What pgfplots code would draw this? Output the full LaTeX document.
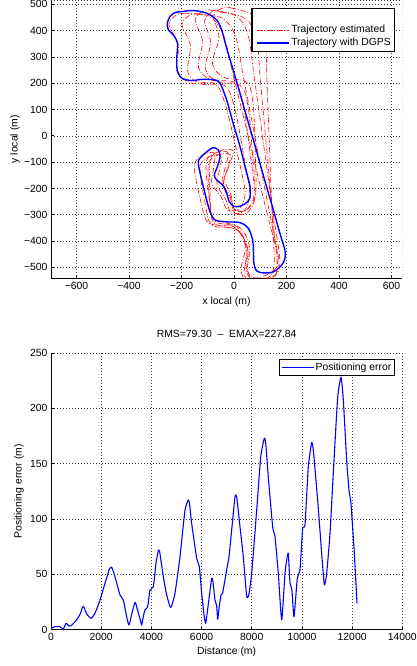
\documentclass[border=0pt]{standalone}
\usepackage{fontspec}
\setmainfont{Liberation Sans}
\usepackage{pgfplots}
\pgfplotsset{compat=1.18}

\pgfplotsset{
  mstyle/.style={
    scale only axis,
    axis lines*=left,
    axis line style={line width=0.8pt, -},
    tick align=inside,
    major tick length=3pt,
    tick style={black, line width=0.6pt},
    grid=major,
    major grid style={black!75, line width=0.5pt, dash pattern=on 0.6pt off 2.4pt},
    scaled ticks=false,
    /pgf/number format/assume math mode=true,
    /pgf/number format/1000 sep={},
    font=\fontsize{10.4}{12}\selectfont,
    legend cell align=left,
    legend style={at={(1,1)}, anchor=north east, draw=black, line width=1.3pt,
      fill=white, row sep=0pt,
      nodes={inner sep=1.5pt, text height=7.5pt, text depth=2.5pt}},
    legend image code/.code={\draw[##1] (0pt,0pt) -- (32pt,0pt);},
  },
  est/.style={draw=red, red, line width=0.6pt, dash pattern=on 5.5pt off 1.8pt on 0.9pt off 1.8pt, smooth, tension=0.55},
}

\begin{document}
\begin{tikzpicture}
\path[use as bounding box] (0pt,0pt) rectangle (417pt,-666pt);

% trajectories
\begin{axis}[mstyle,
  at={(51pt,0pt)}, anchor=north west,
  width=351pt, height=278.7pt,
  xmin=-697, xmax=640, ymin=-543, ymax=516,
  xtick={-600,-400,-200,0,200,400,600},
  xticklabels={−600,−400,−200,0,200,400,600},
  ytick={-500,-400,-300,-200,-100,0,100,200,300,400,500},
  yticklabels={−500,−400,−300,−200,−100,0,100,200,300,400,500},
  xlabel={x local (m)}, ylabel={y local (m)},
  xlabel style={at={(axis description cs:0.5,-0.0836)}, anchor=center},
  ylabel style={at={(axis description cs:-0.1026,0.5)}, anchor=center},
  legend style={xshift=-7pt, yshift=-7.7pt, inner sep=2pt},
  legend image code/.code={\draw[#1] (3pt,0pt) -- (35pt,0pt);},
]
\addlegendimage{empty legend}
\addlegendentry{}

\addplot[est] coordinates {
(-191,464) (-96,455) (-42,388) (-4,235) (40,56) (84,-124) (128,-303) (166,-457)
(151,-513) (80,-540) (46,-503) (44,-414) (-1,-346) (-96,-332) (-125,-255) (-151,-115)
(-117,-72) (-73,-67) (-79,-130) (-84,-181) (-48,-233) (-25,-282) (21,-276) (42,-211)
(10,-57) (-34,122) (-75,199) (-164,201) (-217,243) (-212,345) (-248,423) (-217,461) (-191,464)
};
\addlegendentry{Trajectory estimated}

\addplot[est, forget plot] coordinates {
(-139,462) (-45,447) (6,378) (36,223) (71,42) (106,-140) (141,-321) (171,-476)
(154,-532) (81,-555) (49,-516) (52,-427) (10,-357) (-84,-339) (-109,-260) (-129,-119)
(-93,-78) (-48,-75) (-57,-137) (-64,-188) (-31,-242) (-11,-292) (35,-288) (60,-224)
(36,-69) (1,112) (-36,191) (-125,197) (-176,242) (-166,344) (-198,423) (-166,460) (-139,462)
};
\addplot[est, forget plot] coordinates {
(-87,477) (6,457) (53,386) (76,230) (102,47) (127,-136) (153,-319) (175,-475)
(156,-530) (82,-550) (52,-509) (59,-420) (21,-348) (-72,-325) (-93,-246) (-106,-103)
(-68,-64) (-23,-64) (-35,-126) (-45,-176) (-14,-231) (4,-282) (49,-281) (77,-218)
(61,-62) (35,120) (2,202) (-86,212) (-135,259) (-120,360) (-148,441) (-114,476) (-87,477)
};
\addplot[est, forget plot] coordinates {
(-50,470) (42,446) (86,372) (100,215) (117,31) (134,-153) (150,-337) (165,-494)
(142,-548) (68,-564) (39,-522) (51,-434) (16,-360) (-75,-332) (-92,-251) (-97,-109)
(-58,-72) (-13,-73) (-28,-134) (-40,-184) (-13,-241) (3,-293) (48,-294) (80,-232)
(71,-76) (54,108) (25,191) (-62,205) (-109,255) (-89,355) (-112,437) (-77,475) (-50,470)
};
\addplot[est, forget plot] coordinates {
(-13,486) (78,457) (118,382) (125,224) (132,40) (139,-146) (147,-330) (153,-488)
(128,-540) (53,-553) (27,-509) (43,-422) (12,-346) (-78,-314) (-91,-232) (-89,-90)
(-47,-55) (-3,-58) (-21,-119) (-36,-168) (-11,-226) (2,-279) (47,-282) (82,-222)
(81,-65) (73,119) (49,203) (-38,222) (-82,274) (-57,373) (-77,456) (-39,488) (-13,486)
};

\addplot[draw=blue, blue, line width=1.4pt, smooth, tension=0.5] coordinates {
(-199,472) (-155,476) (-104,466) (-66,440) (-47,402) (-28,333) (-3,250) (23,161)
(48,73) (74,-16) (99,-105) (124,-193) (150,-282) (175,-371) (194,-434) (194,-466)
(182,-491) (150,-517) (112,-521) (86,-513) (76,-485) (74,-434) (71,-396) (55,-352)
(23,-330) (-28,-327) (-72,-320) (-91,-289) (-104,-244) (-123,-168) (-136,-105) (-130,-86)
(-104,-61) (-79,-45) (-60,-54) (-53,-79) (-63,-117) (-75,-149) (-66,-168) (-43,-187)
(-28,-219) (-18,-250) (-3,-267) (17,-269) (42,-259) (60,-238) (61,-193) (42,-117)
(23,-41) (-3,47) (-28,136) (-53,200) (-72,212) (-117,215) (-161,210) (-199,219)
(-216,250) (-218,294) (-215,352) (-231,383) (-250,402) (-254,428) (-244,453) (-225,468)
(-199,472)
};
\addlegendentry{Trajectory with DGPS}

\draw[black!75, line width=0.5pt, dash pattern=on 0.6pt off 2.4pt]
  (rel axis cs:0,1) -- (rel axis cs:1,1) -- (rel axis cs:1,0);
\end{axis}

% positioning error
\begin{axis}[mstyle,
  at={(51pt,-353pt)}, anchor=north west,
  width=351.3pt, height=276.7pt,
  xmin=0, xmax=14000, ymin=0, ymax=250,
  xtick={0,2000,...,14000},
  ytick={0,50,...,250},
  title={RMS=79.30\hspace{0.55em}–\hspace{0.55em}EMAX=227.84},
  title style={at={(axis description cs:0.5,1.047)}, anchor=center},
  xlabel={Distance (m)}, ylabel={Positioning error (m)},
  xlabel style={at={(axis description cs:0.5,-0.0806)}, anchor=center},
  ylabel style={at={(axis description cs:-0.091,0.5)}, anchor=center},
  legend style={xshift=-7.3pt, yshift=-6pt, inner sep=1.5pt},
  legend image code/.code={\draw[draw=blue, line width=1.1pt] (3pt,0pt) -- (35pt,0pt);},
]
\addplot[draw=blue, blue, line width=1.1pt, line join=round, smooth, tension=0.3] coordinates {
(0,1.3) (159,2.7) (359,2.7) (490,0.6) (598,5.8) (717,3.3) (797,3.5) (956,7.2)
(1088,11.2) (1180,15) (1262,20.8) (1320,20) (1422,14.2) (1594,10.3) (1753,14.8) (1953,26.8)
(2152,41.9) (2324,54.6) (2418,56.4) (2550,47.9) (2750,31.4) (2883,26.8) (3016,11.7) (3108,4.2)
(3241,16.3) (3348,24.7) (3400,22) (3481,14.8) (3560,9) (3614,4.2) (3680,12) (3746,17.8)
(3852,20.8) (3945,35.9) (4078,38.9) (4184,60) (4277,71.4) (4330,70.5) (4477,47.9) (4610,31.4)
(4742,20.8) (4800,21) (4942,32.9) (5141,66) (5340,108) (5472,117.2) (5520,114) (5606,96)
(5806,64.5) (5911,57) (6005,32.9) (6090,15) (6165,5.8) (6280,25) (6404,46.4) (6450,44)
(6536,26.8) (6600,22) (6643,9.4) (6700,20) (6775,31.4) (6840,33) (7001,54) (7094,66)
(7200,90) (7333,120.2) (7400,120) (7532,93) (7664,66) (7797,30.4) (7877,31) (7997,51)
(8197,108) (8357,156) (8501,173) (8560,168) (8660,138) (8834,93) (8927,84) (9058,51)
(9193,8.8) (9325,51) (9400,64) (9457,69) (9525,42) (9600,36) (9684,11.7) (9816,46.4)
(9923,54) (10029,91.6) (10122,94.6) (10254,147) (10388,169) (10455,162) (10627,117) (10787,69)
(10893,40.4) (10986,51) (11119,87) (11278,153) (11425,210) (11557,228) (11650,207.5) (11783,153)
(11876,126) (11955,114) (12088,69) (12195,23.8)
};
\addlegendentry{Positioning error}
\end{axis}
\end{tikzpicture}
\end{document}
